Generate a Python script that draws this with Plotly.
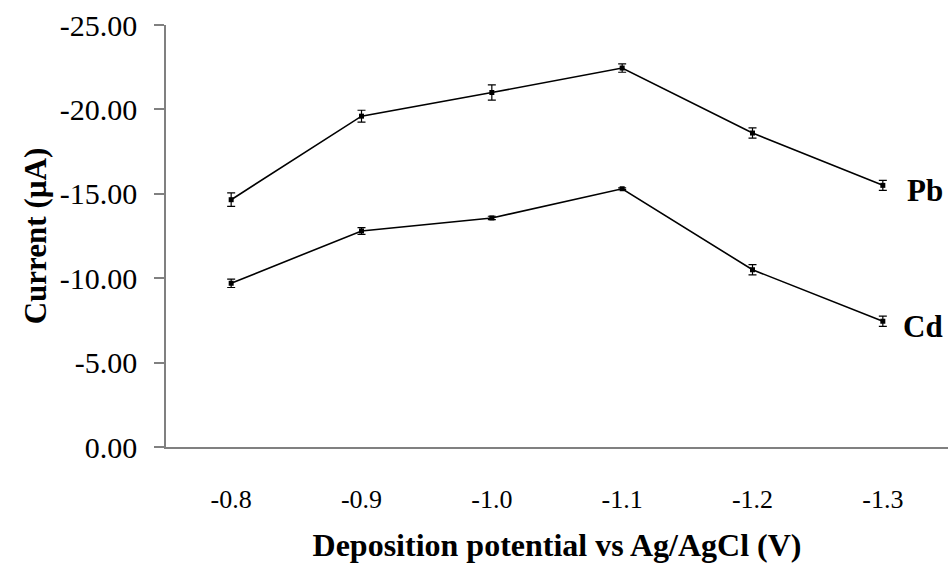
import plotly.graph_objects as go

potentials = ["-0.8", "-0.9", "-1.0", "-1.1", "-1.2", "-1.3"]
pb_current = [-14.65, -19.6, -21.0, -22.45, -18.6, -15.5]
pb_error = [0.4, 0.35, 0.45, 0.25, 0.3, 0.3]
cd_current = [-9.7, -12.8, -13.57, -15.3, -10.5, -7.45]
cd_error = [0.25, 0.2, 0.1, 0.05, 0.3, 0.3]
y_ticks = [0, -5, -10, -15, -20, -25]
y_tick_labels = ["0.00", "-5.00", "-10.00", "-15.00", "-20.00", "-25.00"]

serif = "Liberation Serif"

fig = go.Figure()
for name, vals, errs in [("Pb", pb_current, pb_error), ("Cd", cd_current, cd_error)]:
    fig.add_trace(go.Scatter(
        x=potentials, y=vals, name=name, mode="lines+markers",
        line=dict(color="black", width=1.6),
        marker=dict(symbol="square", size=5, color="black"),
        error_y=dict(type="data", array=errs, visible=True, color="black",
                     thickness=1.2, width=4),
        showlegend=False,
    ))

for name, vals in [("Pb", pb_current), ("Cd", cd_current)]:
    fig.add_annotation(xref="paper", x=1, y=vals[-1], yref="y", text=f"<b>{name}</b>",
                       showarrow=False, xanchor="right", xshift=-3, yshift=-5,
                       font=dict(family=serif, size=31, color="black"))

fig.update_layout(
    width=948, height=570,
    margin=dict(l=166, r=0, t=25, b=123),
    paper_bgcolor="white", plot_bgcolor="white",
    font=dict(family=serif, color="black"),
    xaxis=dict(
        type="category", range=[-0.5, 5.5], showgrid=False, zeroline=False,
        showline=True, linecolor="#808080", linewidth=1.5, ticks="",
        tickfont=dict(family=serif, size=26, color="black"),
        ticklabelstandoff=28,
        title=dict(text="<b>Deposition potential vs Ag/AgCl (V)</b>",
                   font=dict(family=serif, size=32, color="black"), standoff=21),
    ),
    yaxis=dict(
        range=[0, -25], tickvals=y_ticks, ticktext=y_tick_labels,
        showgrid=False, zeroline=False,
        showline=True, linecolor="#808080", linewidth=1.5,
        ticks="outside", ticklen=10, tickcolor="#808080", tickwidth=1.5,
        tickfont=dict(family=serif, size=30, color="black"),
        ticklabelstandoff=11,
        title=dict(text="<b>Current (µA)</b>",
                   font=dict(family=serif, size=31, color="black"), standoff=4),
    ),
)

fig.write_html("out.html")
